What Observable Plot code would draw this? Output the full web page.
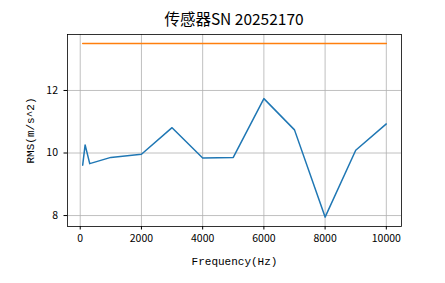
<!DOCTYPE html>
<html><head><meta charset="utf-8">
<script src="https://cdn.jsdelivr.net/npm/d3@7"></script>
<script src="https://cdn.jsdelivr.net/npm/@observablehq/plot@0.6"></script>
<style>
body{margin:0;background:#fff;}
#wrap{position:relative;width:445px;height:283px;}
#chart svg{display:block;}
#title{position:absolute;left:67px;width:334px;top:8px;text-align:center;line-height:20px;white-space:nowrap;color:#000;font-family:'Noto Sans CJK SC',sans-serif;font-size:15.5px;}
</style>
</head><body><div id="wrap"><div id="chart"></div><div id="title"></div></div>
<script>
const title = "传感器SN 20252170";
const xLabel = "Frequency(Hz)";
const yLabel = "RMS(m/s^2)";
const freqs = [80, 160, 310, 1000, 2000, 3000, 4000, 5000, 6000, 7000, 8000, 9000, 10000];
const rms = [9.61, 10.26, 9.66, 9.86, 9.96, 10.81, 9.84, 9.86, 11.74, 10.74, 7.95, 10.09, 10.93];
const limitValue = 13.5;
const xTicks = [0, 2000, 4000, 6000, 8000, 10000];
const yTicks = [8, 10, 12];

const data = freqs.map((f, i) => ({f, v: rms[i]}));
const limit = [{f: freqs[0], v: limitValue}, {f: freqs[freqs.length-1], v: limitValue}];

const tickFont = "'Noto Sans CJK SC',sans-serif";
const labelFont = "'Liberation Mono','DejaVu Sans Mono',monospace";
const chart = Plot.plot({
  width: 445, height: 283,
  marginLeft: 67, marginRight: 44, marginTop: 34, marginBottom: 57,
  style: {fontFamily: tickFont, fontSize: "10.5px", color: "#000", background: "#fff"},
  x: {domain: [-416, 10496]},
  y: {domain: [7.65, 13.79]},
  marks: [
    Plot.gridX(xTicks, {stroke: "#b0b0b0", strokeOpacity: 1, strokeWidth: 0.8}),
    Plot.gridY(yTicks, {stroke: "#b0b0b0", strokeOpacity: 1, strokeWidth: 0.8}),
    Plot.line(data, {x: "f", y: "v", stroke: "#1f77b4", strokeWidth: 1.5}),
    Plot.line(limit, {x: "f", y: "v", stroke: "#ff7f0e", strokeWidth: 1.5}),
    Plot.frame({stroke: "#000", strokeWidth: 0.8}),
    Plot.axisX(xTicks, {tickSize: 3.5, tickPadding: 5, tickFormat: d3.format("d"), label: null, fontSize: 10.5}),
    Plot.axisX({label: xLabel, labelAnchor: "center", labelArrow: "none", labelOffset: 38, ticks: [], tickSize: 0, fontFamily: labelFont, fontSize: 11}),
    Plot.axisY(yTicks, {tickSize: 3.5, tickPadding: 6, label: null, fontSize: 10.5}),
    Plot.axisY({label: yLabel, labelAnchor: "center", labelArrow: "none", labelOffset: 41, ticks: [], tickSize: 0, fontFamily: labelFont, fontSize: 11})
  ]
});
document.getElementById("chart").appendChild(chart);
document.getElementById("title").textContent = title;
</script></body></html>
